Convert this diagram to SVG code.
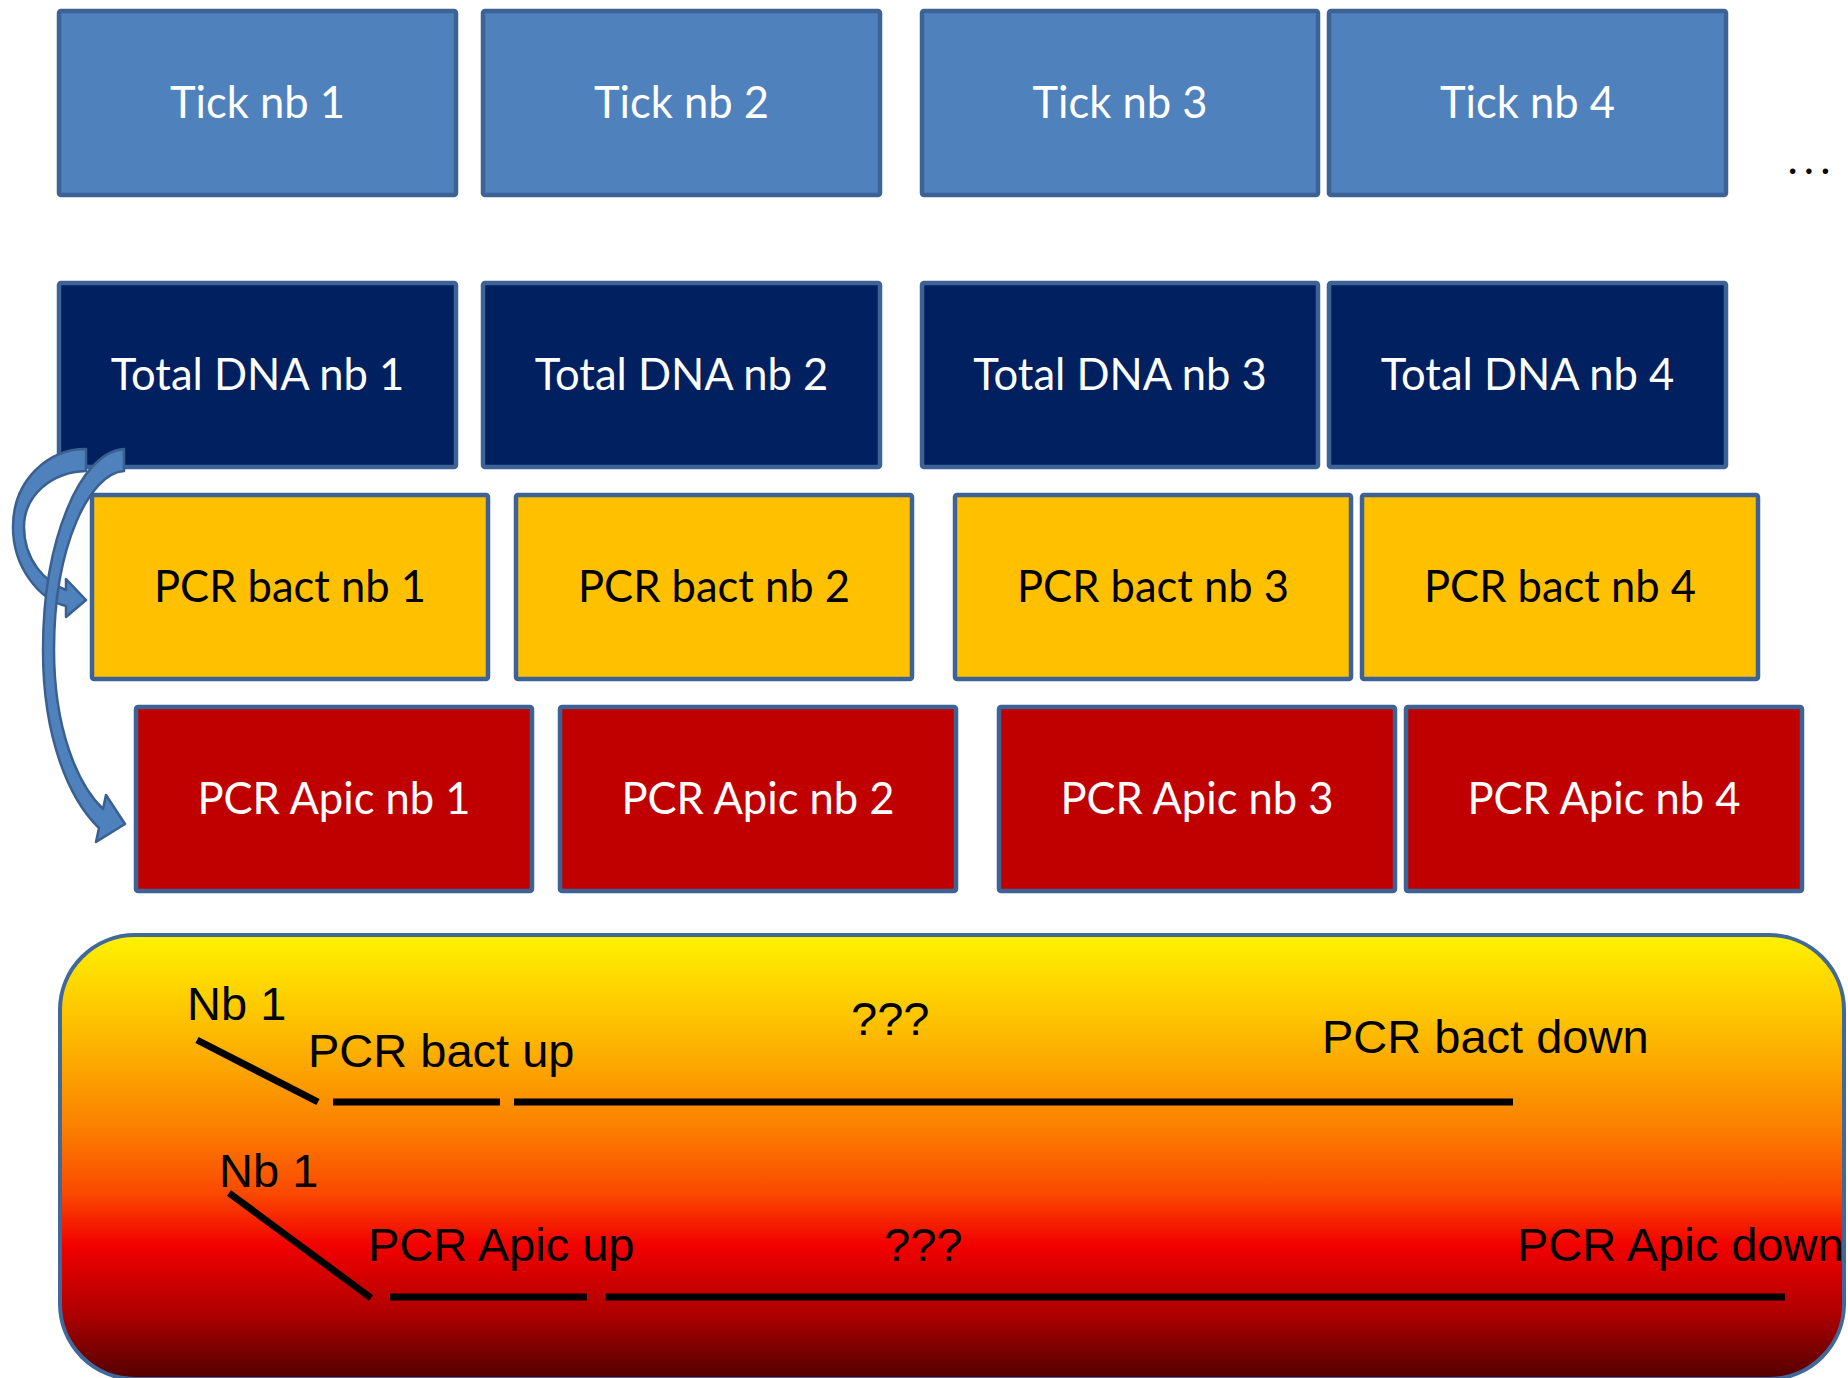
<svg xmlns="http://www.w3.org/2000/svg" width="1848" height="1378" viewBox="0 0 1848 1378">
<defs>
<style>
.box{stroke:#3D6396;stroke-width:4.5}
.tick{fill:#4F81BD}
.dna{fill:#002060}
.bact{fill:#FFC000}
.apic{fill:#C00000}
.lbl{font-family:Lato,"Open Sans",sans-serif;font-size:43.5px;text-anchor:middle}
.w{fill:#FFFFFF}
.k{fill:#000000}
.pt{font-family:"Liberation Sans",Arial,sans-serif;font-size:47px;fill:#000}
.ln{stroke:#000;stroke-width:7;fill:none}
.arr{fill:#4F81BD;stroke:#3A6090;stroke-width:2.5;stroke-linejoin:round}
</style>
<linearGradient id="heat" x1="0" y1="0" x2="0" y2="1">
<stop offset="0" stop-color="#FFF200"/>
<stop offset="0.2" stop-color="#FDC000"/>
<stop offset="0.42" stop-color="#FB8400"/>
<stop offset="0.58" stop-color="#FA4A00"/>
<stop offset="0.7" stop-color="#F20000"/>
<stop offset="0.85" stop-color="#B00000"/>
<stop offset="1" stop-color="#520000"/>
</linearGradient>
</defs>
<rect width="1848" height="1378" fill="#FFFFFF"/>

<g id="tick1"><rect class="box tick" x="59" y="11" width="397" height="184" rx="2"/><text class="lbl w" x="257.5" y="118">Tick nb 1</text></g>
<g id="tick2"><rect class="box tick" x="483" y="11" width="397" height="184" rx="2"/><text class="lbl w" x="681.5" y="118">Tick nb 2</text></g>
<g id="tick3"><rect class="box tick" x="922" y="11" width="396" height="184" rx="2"/><text class="lbl w" x="1120" y="118">Tick nb 3</text></g>
<g id="tick4"><rect class="box tick" x="1329" y="11" width="397" height="184" rx="2"/><text class="lbl w" x="1527.5" y="118">Tick nb 4</text></g>
<g id="more"><text class="lbl k" x="1812" y="174" style="letter-spacing:6px">...</text></g>

<g id="dna1"><rect class="box dna" x="59" y="283" width="397" height="184" rx="2"/><text class="lbl w" x="257.5" y="390">Total DNA nb 1</text></g>
<g id="dna2"><rect class="box dna" x="483" y="283" width="397" height="184" rx="2"/><text class="lbl w" x="681.5" y="390">Total DNA nb 2</text></g>
<g id="dna3"><rect class="box dna" x="922" y="283" width="396" height="184" rx="2"/><text class="lbl w" x="1120" y="390">Total DNA nb 3</text></g>
<g id="dna4"><rect class="box dna" x="1329" y="283" width="397" height="184" rx="2"/><text class="lbl w" x="1527.5" y="390">Total DNA nb 4</text></g>

<g id="bact1"><rect class="box bact" x="92" y="495" width="396" height="184" rx="2"/><text class="lbl k" x="290" y="602">PCR bact nb 1</text></g>
<g id="bact2"><rect class="box bact" x="516" y="495" width="396" height="184" rx="2"/><text class="lbl k" x="714" y="602">PCR bact nb 2</text></g>
<g id="bact3"><rect class="box bact" x="955" y="495" width="396" height="184" rx="2"/><text class="lbl k" x="1153" y="602">PCR bact nb 3</text></g>
<g id="bact4"><rect class="box bact" x="1362" y="495" width="396" height="184" rx="2"/><text class="lbl k" x="1560" y="602">PCR bact nb 4</text></g>

<g id="apic1"><rect class="box apic" x="136" y="707" width="396" height="184" rx="2"/><text class="lbl w" x="334" y="814">PCR Apic nb 1</text></g>
<g id="apic2"><rect class="box apic" x="560" y="707" width="396" height="184" rx="2"/><text class="lbl w" x="758" y="814">PCR Apic nb 2</text></g>
<g id="apic3"><rect class="box apic" x="999" y="707" width="396" height="184" rx="2"/><text class="lbl w" x="1197" y="814">PCR Apic nb 3</text></g>
<g id="apic4"><rect class="box apic" x="1406" y="707" width="396" height="184" rx="2"/><text class="lbl w" x="1604" y="814">PCR Apic nb 4</text></g>

<g id="connectors">
<path class="arr" d="M 86,449 C 48,449 13,480 13,527 C 13,568 40,600 66,606 L 66,617 L 86,600 L 66,579 L 66,590 C 45,582 24,560 24,527 C 24,495 52,472 86,471 Z"/>
<path class="arr" d="M 124,449 C 80,452 43,540 43,650 C 43,740 70,800 99,828 L 96,842 L 125,824 L 106,795 L 103,809 C 78,785 54,730 54,650 C 54,545 90,473 124,471 Z"/>
</g>

<g id="panel">
<rect x="60" y="935" width="1784" height="444" rx="75" fill="url(#heat)" stroke="#41689A" stroke-width="4"/>
<text class="pt" x="187" y="1020">Nb 1</text>
<text class="pt" x="308" y="1067">PCR bact up</text>
<text class="pt" x="851" y="1035">???</text>
<text class="pt" x="1322" y="1053">PCR bact down</text>
<line class="ln" x1="197" y1="1040" x2="318" y2="1102"/>
<line class="ln" x1="333" y1="1102" x2="500" y2="1102"/>
<line class="ln" x1="514" y1="1102" x2="1513" y2="1102"/>
<text class="pt" x="219" y="1187">Nb 1</text>
<text class="pt" x="368" y="1261">PCR Apic up</text>
<text class="pt" x="884" y="1261">???</text>
<text class="pt" x="1517" y="1261">PCR Apic down</text>
<line class="ln" x1="229" y1="1193" x2="371" y2="1298"/>
<line class="ln" x1="390" y1="1297" x2="587" y2="1297"/>
<line class="ln" x1="605" y1="1297" x2="1785" y2="1297"/>
</g>
</svg>
